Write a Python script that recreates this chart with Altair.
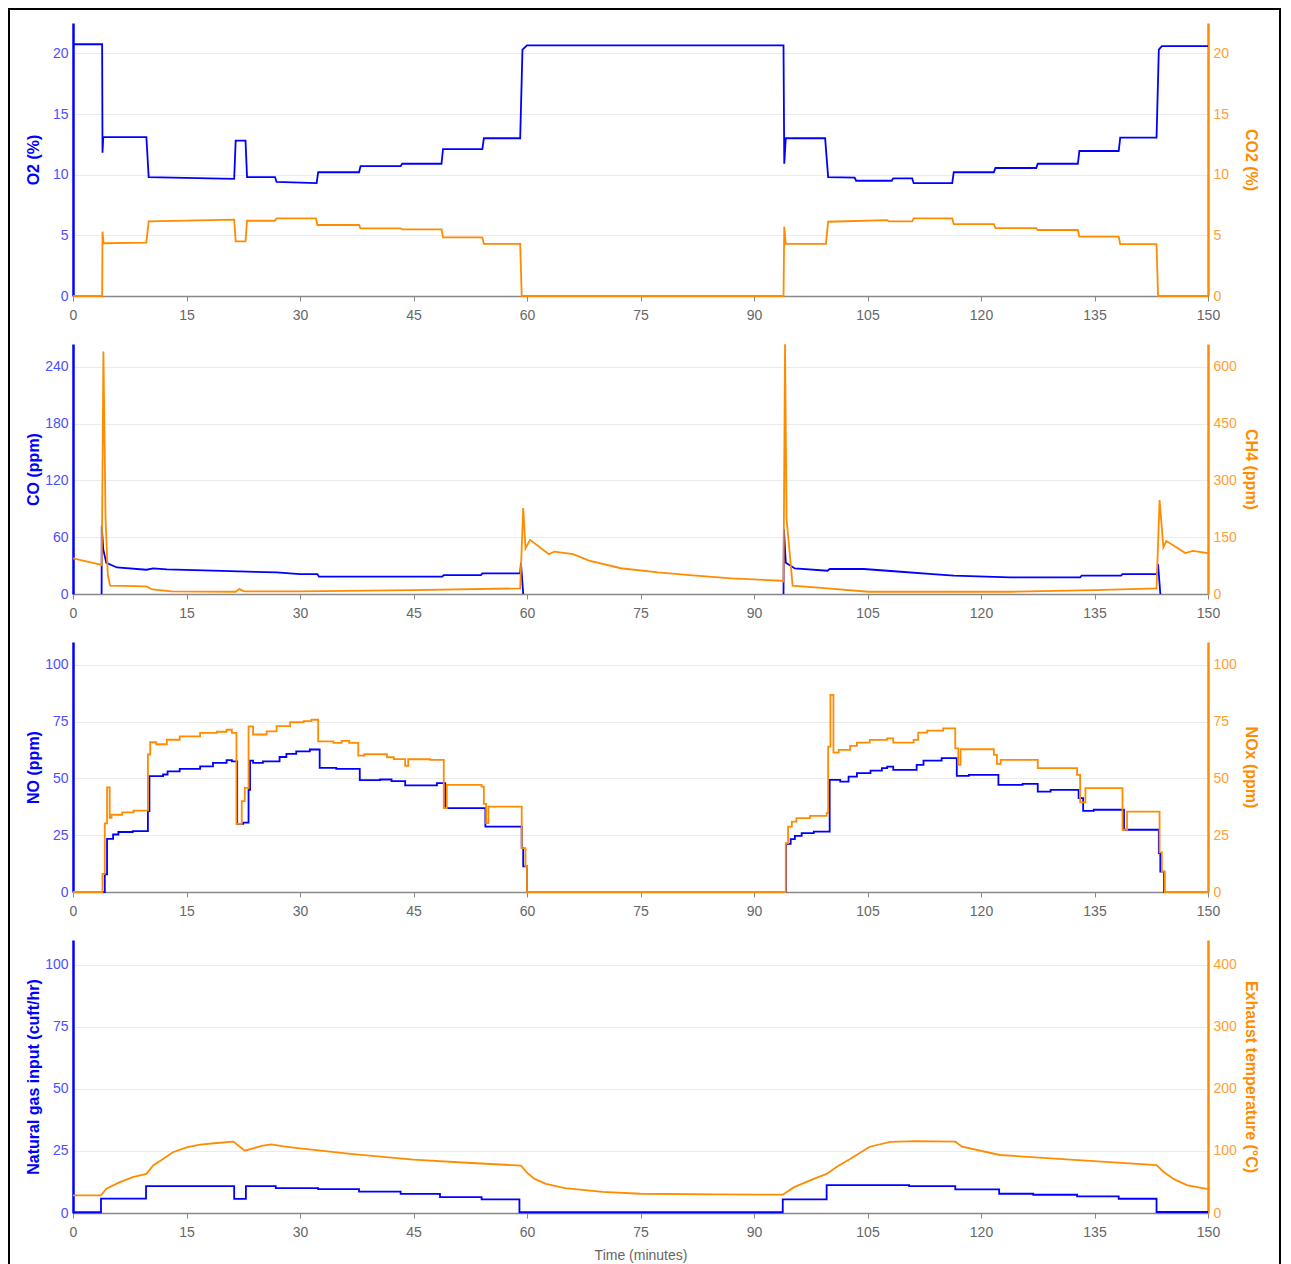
import altair as alt
import pandas as pd

# ---------------- data ----------------
# Panel 1: O2 (%) and CO2 (%)
O2_T = [0, 3.85, 3.9, 4.0, 9.7, 10.0, 21.3, 21.5, 22.8, 23.0, 26.7, 26.9, 32.2, 32.4, 37.8, 38.0,
        43.3, 43.5, 48.7, 48.9, 54.1, 54.3, 59.1, 59.4, 60.0, 93.9, 94.0, 94.2, 99.4, 99.8,
        103.3, 103.5, 108.2, 108.4, 110.9, 111.1, 116.2, 116.4, 121.7, 121.9, 127.3, 127.5,
        132.8, 133.0, 138.2, 138.4, 143.2, 143.5, 143.9, 150]
O2_V = [20.75, 20.75, 11.8, 13.1, 13.1, 9.8, 9.65, 12.8, 12.8, 9.8, 9.8, 9.4, 9.3, 10.2, 10.2, 10.7,
        10.7, 10.9, 10.9, 12.1, 12.1, 13.0, 13.0, 20.3, 20.65, 20.65, 10.9, 13.0, 13.0, 9.8,
        9.75, 9.5, 9.5, 9.7, 9.7, 9.3, 9.3, 10.2, 10.2, 10.55, 10.55, 10.9,
        10.9, 11.95, 11.95, 13.05, 13.05, 20.3, 20.6, 20.6]

CO2_T = [0, 3.85, 3.9, 4.05, 9.7, 10.0, 21.3, 21.5, 22.8, 23.0, 26.7, 26.9, 32.1, 32.3, 37.8, 38.0,
         43.3, 43.5, 48.7, 48.9, 54.1, 54.3, 59.1, 59.3, 93.9, 94.0, 94.2, 99.5, 99.8, 107.6,
         107.8, 110.9, 111.1, 116.2, 116.4, 121.7, 121.9, 127.3, 127.5, 132.8, 133.0, 138.2,
         138.4, 143.2, 143.4, 150]
CO2_V = [0, 0, 5.3, 4.35, 4.4, 6.15, 6.3, 4.5, 4.5, 6.2, 6.2, 6.4, 6.4, 5.85, 5.85, 5.57,
         5.57, 5.49, 5.49, 4.84, 4.84, 4.29, 4.29, 0, 0, 5.7, 4.3, 4.3, 6.12, 6.26,
         6.15, 6.15, 6.39, 6.39, 5.93, 5.93, 5.6, 5.6, 5.44, 5.44, 4.89, 4.89,
         4.28, 4.28, 0, 0]

# Panel 2: CO (ppm), two burner-on runs, and CH4 (ppm)
CO_A_T = [3.78, 3.8, 4.0, 4.4, 5.8, 9.7, 10.6, 12.4, 18.5, 26.9, 30.0, 32.3, 32.5, 48.8, 49.0,
          53.9, 54.1, 59.1, 59.2, 59.5]
CO_A_V = [0, 72, 47, 33, 28, 25.6, 27, 26, 24.6, 22.8, 21, 21, 18.3, 18.3, 20,
          20, 21.8, 21.8, 33, 0]
CO_B_T = [93.9, 93.95, 94.2, 95.4, 99.7, 100.0, 104.5, 109.4, 113.6, 116.4, 123.8, 133.1, 133.3,
          138.5, 138.7, 143.3, 143.4, 143.7]
CO_B_V = [0, 68.5, 33, 27, 24.6, 26.4, 26.4, 23.5, 21, 19.3, 17.6, 17.5, 19.3,
          19.3, 21, 21, 31.6, 0]

CH4_T = [0, 3.35, 3.8, 4.02, 4.3, 4.6, 4.9, 9.7, 10.5, 13, 21.5, 22.0, 22.6, 30, 45, 59.1,
         59.5, 59.8, 60.4, 62.9, 63.6, 66.1, 68.2, 72.4, 77.3, 81.5, 87.0, 93.6, 93.9, 94.1,
         94.3, 95.1, 99.7, 105.1, 124, 135, 143.2, 143.6, 144.1, 144.5, 147.0, 148.0, 150]
CH4_V = [94, 79, 76, 640, 200, 50, 22, 20, 12, 7, 6, 13, 7, 7, 10, 15,
         227, 120, 143, 105, 112, 105, 88, 68, 57, 50, 41, 35, 33, 659,
         200, 22, 15, 6, 6, 10, 15, 248, 123, 140, 108, 114, 108]

# Panel 3: NO and NOx (ppm), values held until the next time (step)
NOX_T = [0, 3.9, 4.2, 4.5, 4.85, 5.1, 6.5, 8.0, 9.9, 10.2, 11.0, 12.4, 14.1, 16.8, 19.0, 20.3,
         21.0, 21.6, 22.3, 22.7, 23.2, 23.8, 25.6, 26.9, 28.7, 30.5, 31.5, 32.4, 34.4, 35.5,
         36.5, 37.7, 38.5, 41.5, 42.4, 43.9, 44.3, 47.2, 49.0, 49.4, 54.0, 54.3, 54.6, 54.9,
         59.3, 59.8, 60.0, 94.2, 94.5, 95.0, 95.6, 97.4, 99.6, 99.8, 100.1, 100.5, 101.2,
         102.7, 103.6, 105.3, 107.6, 108.4, 111.1, 111.7, 112.9, 115.0, 116.6, 117.0, 117.3,
         121.7, 122.1, 122.6, 127.5, 132.7, 133.1, 133.8, 138.7, 139.3, 143.6, 143.9, 144.3, 150]
NOX_V = [0, 8, 30.2, 46, 32.6, 34, 35, 35.8, 60.5, 65.9, 65, 67, 68.5, 70, 70.5, 71.4,
         70, 30, 40, 45.8, 72.9, 69.3, 70.7, 73, 74.7, 75.2, 75.8, 66.3, 65.6, 66.5,
         65.6, 60, 60.6, 59.3, 58.5, 55.5, 58.4, 58.1, 36.9, 47.1, 46.4, 38.8, 30.3, 37.6,
         19.3, 11.3, 0, 21.5, 28.8, 31, 32.5, 33.5, 34.7, 64, 86.7, 61.3, 62.5,
         64.3, 65.7, 66.9, 67.6, 65.7, 66.9, 70.1, 71, 72, 63.2, 55.9, 62.8,
         60.3, 56.4, 58.1, 54.5, 51.5, 39.4, 45.7, 27.4, 35.4, 17.4, 9, 0, 0]

NO_T = [0, 4.2, 4.5, 5.3, 6.0, 7.9, 9.9, 10.1, 11.9, 12.5, 14.1, 16.8, 18.5, 20.3, 21.0, 21.7,
        22.5, 23.2, 23.4, 23.8, 25.1, 27.3, 28.2, 29.5, 31.3, 32.6, 34.8, 37.9, 40.6, 42.1,
        43.9, 48.1, 49.2, 54.5, 59.3, 59.5, 60.0, 94.24, 94.85, 95.4, 96.3, 97.9, 100.0, 101.4,
        102.5, 103.6, 105.4, 106.9, 107.6, 108.4, 111.5, 112.4, 114.8, 116.8, 118.4, 122.3,
        125.5, 127.5, 129.2, 132.9, 133.5, 134.9, 138.9, 143.5, 143.7, 144.2, 150]
NO_V = [0, 7.8, 23.4, 25.3, 26.4, 26.8, 35.6, 51, 51.7, 53.1, 54.2, 55.3, 56.8, 58, 57.5, 30,
        30.5, 45, 57.8, 56.8, 57.5, 59.4, 60.8, 61.9, 62.7, 54.6, 54.2, 49.2, 49.5, 48.8,
        46.9, 47.9, 36.9, 28.8, 19.3, 11.3, 0, 21.2, 23.3, 24.7, 25.9, 26.6, 49.3, 48.6,
        50.8, 52.3, 53.4, 54.5, 55.2, 53.7, 55.9, 57.8, 58.9, 51.1, 51.5, 47.1,
        47.6, 44.2, 44.9, 41.3, 35.7, 36.2, 27.4, 17.1, 9, 0, 0]

# Panel 4: natural gas input (cuft/hr, step) and exhaust temperature (deg C)
GAS_T = [0, 3.7, 9.65, 21.3, 22.85, 26.8, 32.4, 37.8, 43.3, 48.5, 54.0, 59.0, 93.8, 99.6,
         110.5, 116.6, 122.4, 126.9, 132.7, 138.2, 143.2, 150]
GAS_V = [0.3, 5.8, 10.8, 5.7, 10.8, 10.0, 9.6, 8.6, 7.7, 6.4, 5.5, 0.3, 5.5, 11.2,
         10.8, 9.5, 7.75, 7.35, 6.7, 5.75, 0.4, 0.4]

TEMP_T = [0, 3.7, 4.4, 6.2, 7.9, 9.7, 10.6, 11.9, 13.2, 15.0, 16.8, 19.0, 21.2, 22.7, 23.8,
          25.1, 26.2, 27.8, 30.0, 37.0, 45.0, 52.0, 59.2, 60.0, 61.0, 62.5, 65.0, 70.0, 75.0,
          85.0, 93.8, 95.3, 97.9, 99.6, 101.0, 102.7, 105.3, 108.0, 111.3, 116.6, 117.5,
          122.5, 131.3, 143.2, 144.1, 145.5, 147.2, 150]
TEMP_V = [28.3, 28.3, 39, 49.7, 57.8, 63.1, 76.5, 87.2, 97.9, 105.9, 110.2, 112.8, 115, 100.5,
          104.3, 108.6, 110.7, 107.5, 104, 95, 86, 81, 76.5, 65, 55, 47, 40, 34, 31,
          30, 29.5, 41.7, 55, 63, 75, 87, 106.8, 114.5, 116, 115, 107,
          93.5, 86.5, 77.3, 66.5, 54.6, 44.9, 38.4]

X_TICKS = [0, 15, 30, 45, 60, 75, 90, 105, 120, 135, 150]

# ---------------- styling ----------------
BLUE = "#0000ff"
ORANGE = "#ff8c00"
BLUE_LABEL = "#4d4dff"
ORANGE_LABEL = "#ffa030"
FONT = "Liberation Sans"
WIDTH = 1135


def frame(ts, vs, seg="a"):
    n = min(len(ts), len(vs))
    return pd.DataFrame({"t": ts[:n], "v": vs[:n], "seg": [seg] * n})


def x_enc(with_title):
    kw = dict(values=X_TICKS, grid=False, domainColor="#888888", domainWidth=1.5,
              tickColor="#888888", tickSize=5, labelColor="#666666", labelFontSize=14,
              labelPadding=7, labelFont=FONT, labelFlush=False)
    if with_title:
        kw.update(title="Time (minutes)", titleColor="#666666", titleFontSize=14,
                  titleFontWeight="normal", titleFont=FONT, titlePadding=9)
    else:
        kw.update(title=None)
    return alt.X("t:Q", scale=alt.Scale(domain=[0, 150], nice=False, zero=False),
                 axis=alt.Axis(**kw))


def y_axis(side, title, ticks):
    color = BLUE if side == "left" else ORANGE
    lab = BLUE_LABEL if side == "left" else ORANGE_LABEL
    return alt.Axis(orient=side, values=ticks, title=title, domainColor=color, domainWidth=2.5,
                    ticks=False, labelColor=lab, labelFontSize=14, labelPadding=5,
                    labelFont=FONT, titleColor=color, titleFontSize=16, titleFontWeight="bold",
                    titleFont=FONT, titleBaseline="middle",
                    titleX=-40 if side == "left" else 42,
                    grid=(side == "left"), gridColor="#ebebeb", gridWidth=1)


def line(df, side, title, dom, ticks, interp, with_title):
    color = BLUE if side == "left" else ORANGE
    return alt.Chart(df).mark_line(color=color, strokeWidth=1.8, interpolate=interp).encode(
        x=x_enc(with_title),
        y=alt.Y("v:Q", scale=alt.Scale(domain=dom, nice=False, zero=True),
                axis=y_axis(side, title, ticks)),
        detail="seg:N",
    )


def panel(left, right, height, with_title=False, extra=None):
    layers = [line(*left, with_title), line(*right, with_title)]
    if extra is not None:
        layers.append(extra)
    return alt.layer(*layers).resolve_scale(y="independent").properties(width=WIDTH, height=height)


# decorative black frame around the whole figure (drawn from the first panel)
frame_box = alt.Chart(pd.DataFrame({"k": [0]})).mark_rect(
    filled=False, stroke="black", strokeWidth=2
).encode(x=alt.value(-64), x2=alt.value(1207), y=alt.value(-14), y2=alt.value(1243))

p1 = panel(
    (frame(O2_T, O2_V), "left", "O2 (%)", [0, 22.5], [0, 5, 10, 15, 20], "linear"),
    (frame(CO2_T, CO2_V), "right", "CO2 (%)", [0, 22.5], [0, 5, 10, 15, 20], "linear"),
    273,
    extra=frame_box,
)
p2 = panel(
    (pd.concat([frame(CO_A_T, CO_A_V, "a"), frame(CO_B_T, CO_B_V, "b")]), "left", "CO (ppm)",
     [0, 264], [0, 60, 120, 180, 240], "linear"),
    (frame(CH4_T, CH4_V), "right", "CH4 (ppm)", [0, 660], [0, 150, 300, 450, 600], "linear"),
    250,
)
p3 = panel(
    (frame(NO_T, NO_V), "left", "NO (ppm)", [0, 110], [0, 25, 50, 75, 100], "step-after"),
    (frame(NOX_T, NOX_V), "right", "NOx (ppm)", [0, 110], [0, 25, 50, 75, 100], "step-after"),
    250,
)
p4 = panel(
    (frame(GAS_T, GAS_V), "left", "Natural gas input (cuft/hr)", [0, 110], [0, 25, 50, 75, 100],
     "step-after"),
    (frame(TEMP_T, TEMP_V), "right", "Exhaust temperature (\u00b0C)", [0, 440],
     [0, 100, 200, 300, 400], "linear"),
    273,
    with_title=True,
)

chart = alt.vconcat(p1, p2, p3, p4, spacing=48, bounds="flush").properties(
    padding={"left": 0, "top": 0, "right": 0, "bottom": 0},
    background="white",
).configure_view(strokeWidth=0)

chart.save("out.html", embed_options={"renderer": "svg", "actions": False})
